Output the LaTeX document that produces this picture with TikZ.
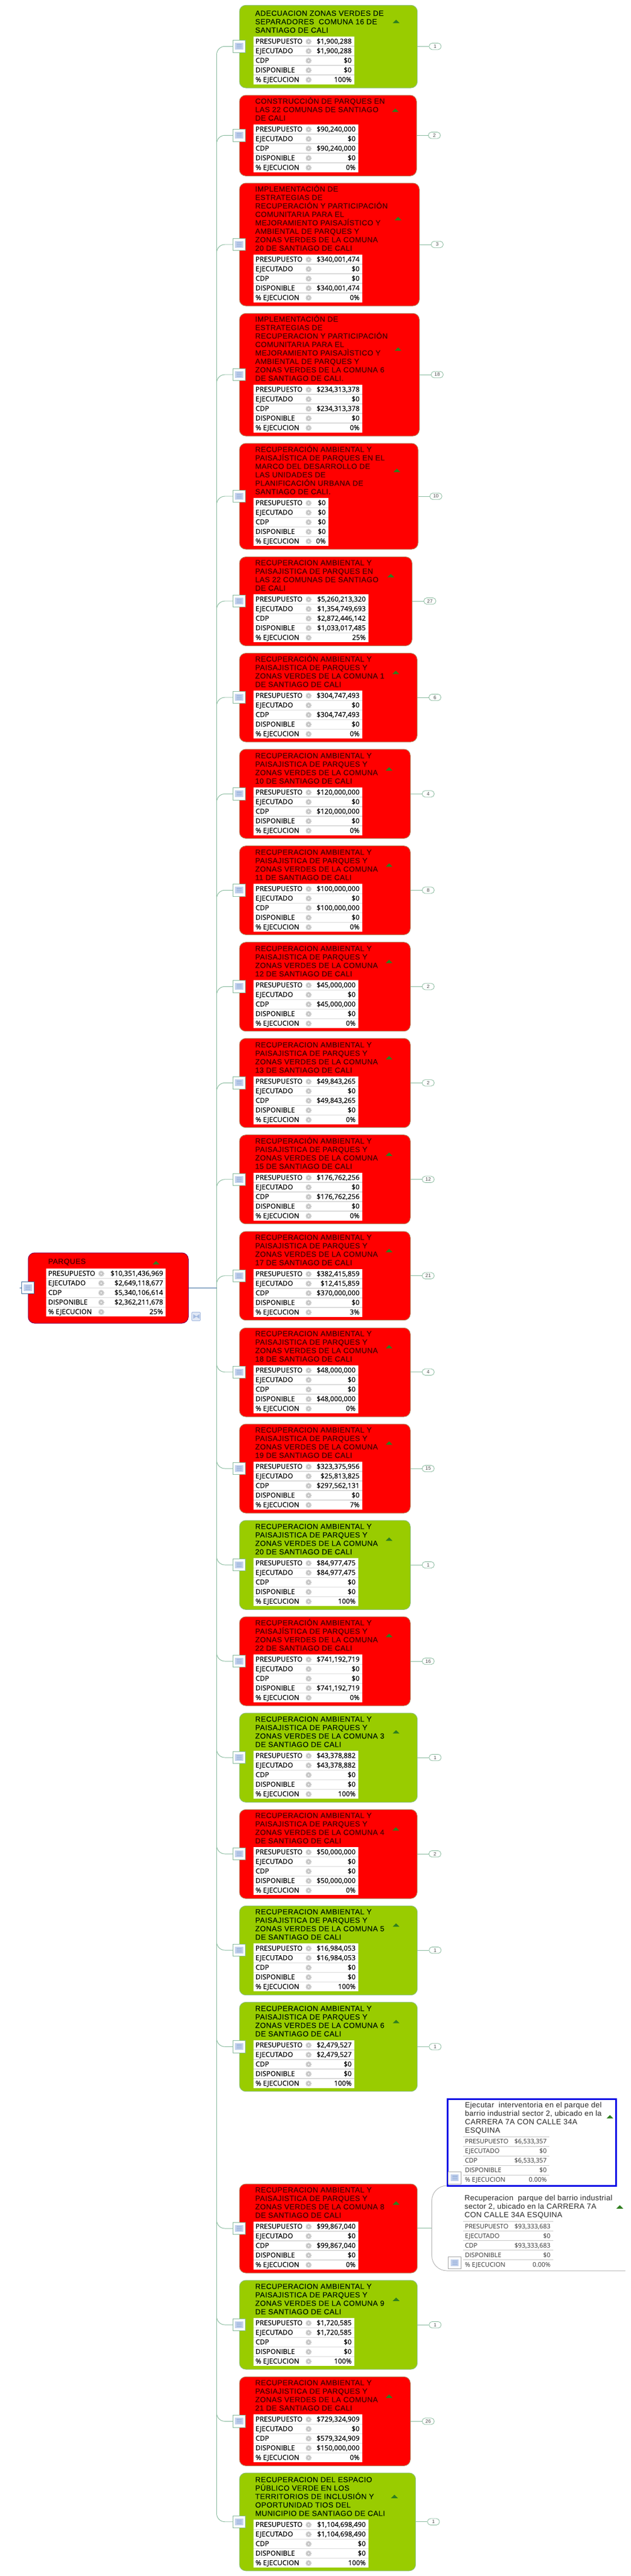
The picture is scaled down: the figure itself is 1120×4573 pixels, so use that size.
\documentclass[tikz,border=0pt]{standalone}
\usepackage{fontspec}
\usetikzlibrary{fit}
\newfontfamily\titlefont{Liberation Sans}[LetterSpace=3, FakeBold=0.45]
\newfontfamily\subfont{Liberation Sans}[LetterSpace=3]
\newfontfamily\numfont{Liberation Sans}
\newfontfamily\rowfont{Open Sans}[FakeBold=0.4]
\newfontfamily\subrowfont{Open Sans}
\definecolor{cardred}{HTML}{FF0000}
\definecolor{cardgreen}{HTML}{99CC00}
\definecolor{linkgreen}{HTML}{86B99C}
\definecolor{linkblue}{HTML}{3F6F9F}
\definecolor{edgered}{HTML}{B5835F}
\definecolor{edgegreen}{HTML}{8CC07A}
\definecolor{rulegrey}{HTML}{DADADA}
\definecolor{geargrey}{HTML}{C4C4C4}
\definecolor{iconblue}{HTML}{C3D1EC}
\definecolor{icondeep}{HTML}{A5BBE0}
\definecolor{tripoint}{HTML}{2F7F1F}
\tikzset{
    cardbox/.style={draw, rounded corners=8.5pt, inner sep=0pt, line width=0.75pt},
    cardred/.style={cardbox, fill=cardred, draw=edgered},
    cardgreen/.style={cardbox, fill=cardgreen, draw=edgegreen},
    titlered/.style={text=red!28!black},
    titlegreen/.style={text=black!90!green},
    titletext/.style={anchor=south west, inner sep=0pt, align=left, font=\fontsize{10}{11.25}\selectfont\titlefont},
    subtitle/.style={anchor=south west, inner sep=0pt, align=left, text=black!85, font=\fontsize{10}{11.25}\selectfont\subfont},
    rowlabel/.style={anchor=base west, inner sep=0pt, font=\fontsize{9.2}{10}\selectfont\rowfont},
    rowvalue/.style={anchor=base east, inner sep=0pt, font=\fontsize{9.2}{10}\selectfont\rowfont},
    sublabel/.style={anchor=base west, inner sep=0pt, text=black!80, font=\fontsize{8.5}{10}\selectfont\subrowfont},
    subvalue/.style={anchor=base east, inner sep=0pt, text=black!80, font=\fontsize{8.5}{10}\selectfont\subrowfont},
    iconbox/.style={rectangle, draw=linkgreen, fill=white, minimum width=16.7pt, minimum height=16.2pt, inner sep=0pt, line width=0.6pt},
    pillbox/.style={rectangle, draw=linkgreen, fill=white, rounded corners=4pt, minimum width=16pt, minimum height=8.5pt, inner sep=0pt, text=black!70, line width=0.6pt, font=\fontsize{6.5}{7}\selectfont\numfont},
    linkline/.style={draw=linkgreen, line width=0.7pt},
    rootline/.style={draw=linkblue, line width=0.7pt},
    subline/.style={draw=black!30, line width=0.7pt}
}
% list icon of a topic
\newcommand{\listicon}[1]{
    \fill[iconblue] ([shift={(-7.2,-6)}]#1.center) rectangle ([shift={(7.2,6)}]#1.center);
    \fill[icondeep] ([shift={(-4.5,-4)}]#1.center) rectangle ([shift={(4.5,4)}]#1.center);
    \foreach \u in {-1.5,1.5}
        \draw[iconblue, line width=0.4pt] ([shift={(-4.5,\u)}]#1.center) -- ([shift={(4.5,\u)}]#1.center);
}
% gear of a table row
\newcommand{\gearicon}[2]{
    \draw[geargrey, line width=1.1pt, dash pattern=on 1pt off 0.9pt] (#1,#2) circle (4.7);
    \fill[geargrey] (#1,#2) circle (4.2);
    \fill[black!8] (#1,#2) circle (1.8);
}
% small triangle of a topic
\newcommand{\uptri}[2]{
    \fill[tripoint] ({#1-6},{#2+3}) -- ({#1},{#2-3}) -- ({#1+6},{#2+3}) -- cycle;
}
% id, left, top, right, five values
\newcommand{\costtable}[9]{
    \fill[white] (#2,#3) rectangle (#4,{#3+85});
    \foreach \r in {1,2,3,4}
        \draw[rulegrey, line width=0.9pt] (#2,{#3+17*\r}) -- (#4,{#3+17*\r});
    \foreach \lab/\val [count=\r from 0] in {PRESUPUESTO/{\$#5}, EJECUTADO/{\$#6}, CDP/{\$#7}, DISPONIBLE/{\$#8}, {\% EJECUCION}/{#9\%}} {
        \node[rowlabel] (#1-l\r) at ({#2+3.3},{#3+12.5+17*\r}) {\lab};
        \gearicon{#2+97.7}{#3+8.7+17*\r}
        \node[rowvalue] (#1-v\r) at ({#4-4.3},{#3+12.5+17*\r}) {\val};
    }
}
% id, top rule, right, five values
\newcommand{\subtable}[8]{
    \foreach \r in {0,1,2,3,4}
        \draw[black!22, line width=0.7pt] (821.7,{#2+17*\r}) -- (#3,{#2+17*\r});
    \foreach \lab/\val [count=\r from 0] in {PRESUPUESTO/{#4}, EJECUTADO/{#5}, CDP/{#6}, DISPONIBLE/{#7}, {\% EJECUCION}/{#8}} {
        \node[sublabel] (#1-l\r) at (825,{#2+12.5+17*\r}) {\lab};
        \node[subvalue] (#1-v\r) at ({#3-4.3},{#2+12.5+17*\r}) {\val};
    }
}

\begin{document}
\begin{tikzpicture}[x=0.75pt, y=-0.75pt]
\useasboundingbox (0,0) rectangle (1120,4573);

\coordinate (hub) at (384.5,2286.5);

% topics of the list
\foreach \cid/\ctop/\cbot/\cright/\ttop/\tright/\cmid/\ytri/\pill/\kind/\ctitle/\va/\vb/\vc/\vd/\ve in {
    c1/9.3/156/740.7/65/628.7/82.3/38/1/green/{ADECUACION ZONAS VERDES DE\\SEPARADORES\ \ COMUNA 16 DE\\SANTIAGO DE CALI}/{1,900,288}/{1,900,288}/0/0/100,
    c2/169/312.3/739.3/221/635.7/240.3/195.7/2/red/{CONSTRUCCIÓN DE PARQUES EN\\LAS 22 COMUNAS DE SANTIAGO\\DE CALI}/{90,240,000}/0/{90,240,000}/0/0,
    c3/325/543/744.3/452/642.7/434/388/3/red/{IMPLEMENTACIÓN DE\\ESTRATEGIAS DE\\RECUPERACIÓN Y PARTICIPACIÓN\\COMUNITARIA PARA EL\\MEJORAMIENTO PAISAJÍSTICO Y\\AMBIENTAL DE PARQUES Y\\ZONAS VERDES DE LA COMUNA\\20 DE SANTIAGO DE CALI}/{340,001,474}/0/0/{340,001,474}/0,
    c4/556.3/774/744.3/683/642.7/665/619.7/18/red/{IMPLEMENTACIÓN DE\\ESTRATEGIAS DE\\RECUPERACION Y PARTICIPACIÓN\\COMUNITARIA PARA EL\\MEJORAMIENTO PAISAJÌSTICO Y\\AMBIENTAL DE PARQUES Y\\ZONAS VERDES DE LA COMUNA 6\\DE SANTIAGO DE CALI.}/{234,313,378}/0/{234,313,378}/0/0,
    c5/787/975/742/884.3/582.7/881/835/10/red/{RECUPERACIÓN AMBIENTAL Y\\PAISAJÍSTICA DE PARQUES EN EL\\MARCO DEL DESARROLLO DE\\LAS UNIDADES DE\\PLANIFICACIÓN URBANA DE\\SANTIAGO DE CALI.}/0/0/0/0/0,
    c6/988.6/1146.4/731.3/1055.4/653.7/1067/1021.8/27/red/{RECUPERACION AMBIENTAL Y\\PAISAJISTICA DE PARQUES EN\\LAS 22 COMUNAS DE SANTIAGO\\DE CALI}/{5,260,213,320}/{1,354,749,693}/{2,872,446,142}/{1,033,017,485}/25,
    c7/1159.6/1317/740.3/1226.4/642.7/1238/1193.6/6/red/{RECUPERACIÓN AMBIENTAL Y\\PAISAJISTICA DE PARQUES Y\\ZONAS VERDES DE LA COMUNA 1\\DE SANTIAGO DE CALI}/{304,747,493}/0/{304,747,493}/0/0,
    c8/1330/1488.3/728.3/1398/642.7/1409.3/1365/4/red/{RECUPERACION AMBIENTAL Y\\PAISAJISTICA DE PARQUES Y\\ZONAS VERDES DE LA COMUNA\\10 DE SANTIAGO DE CALI}/{120,000,000}/0/{120,000,000}/0/0,
    c9/1501.7/1659.3/728.3/1569.3/642.7/1580.3/1535.7/8/red/{RECUPERACION AMBIENTAL Y\\PAISAJISTICA DE PARQUES Y\\ZONAS VERDES DE LA COMUNA\\11 DE SANTIAGO DE CALI}/{100,000,000}/0/{100,000,000}/0/0,
    c10/1672.7/1830.7/728.3/1740.3/635.7/1751.3/1706.7/2/red/{RECUPERACION AMBIENTAL Y\\PAISAJISTICA DE PARQUES Y\\ZONAS VERDES DE LA COMUNA\\12 DE SANTIAGO DE CALI}/{45,000,000}/0/{45,000,000}/0/0,
    c11/1843.3/2001.7/728.3/1911.3/635.7/1922.3/1877.7/2/red/{RECUPERACION AMBIENTAL Y\\PAISAJISTICA DE PARQUES Y\\ZONAS VERDES DE LA COMUNA\\13 DE SANTIAGO DE CALI}/{49,843,265}/0/{49,843,265}/0/0,
    c12/2014.7/2172.7/728.3/2082/642.7/2093.7/2049/12/red/{RECUPERACIÓN AMBIENTAL Y\\PAISAJISTICA DE PARQUES Y\\ZONAS VERDES DE LA COMUNA\\15 DE SANTIAGO DE CALI}/{176,762,256}/0/{176,762,256}/0/0,
    c13/2186/2343.7/728.3/2253/642.7/2264.7/2220/21/red/{RECUPERACION AMBIENTAL Y\\PAISAJISTICA DE PARQUES Y\\ZONAS VERDES DE LA COMUNA\\17 DE SANTIAGO DE CALI}/{382,415,859}/{12,415,859}/{370,000,000}/0/3,
    c14/2357.3/2515/728.3/2424/635.7/2435.7/2390.7/4/red/{RECUPERACION AMBIENTAL Y\\PAISAJISTICA DE PARQUES Y\\ZONAS VERDES DE LA COMUNA\\18 DE SANTIAGO DE CALI}/{48,000,000}/0/0/{48,000,000}/0,
    c15/2528/2686/728.3/2595/642.7/2607/2561.7/15/red/{RECUPERACION AMBIENTAL Y\\PAISAJISTICA DE PARQUES Y\\ZONAS VERDES DE LA COMUNA\\19 DE SANTIAGO DE CALI}/{323,375,956}/{25,813,825}/{297,562,131}/0/7,
    c16/2699/2857.3/728.3/2766.3/635.7/2778/2732.3/1/green/{RECUPERACION AMBIENTAL Y\\PAISAJISTICA DE PARQUES Y\\ZONAS VERDES DE LA COMUNA\\20 DE SANTIAGO DE CALI}/{84,977,475}/{84,977,475}/0/0/100,
    c17/2870/3028/728.3/2937.3/642.7/2949/2903.3/16/red/{RECUPERACIÓN AMBIENTAL Y\\PAISAJÍSTICA DE PARQUES Y\\ZONAS VERDES DE LA COMUNA\\22 DE SANTIAGO DE CALI}/{741,192,719}/0/0/{741,192,719}/0,
    c18/3041/3199.3/740.7/3108.3/635.7/3120/3074.3/1/green/{RECUPERACION AMBIENTAL Y\\PAISAJISTICA DE PARQUES Y\\ZONAS VERDES DE LA COMUNA 3\\DE SANTIAGO DE CALI}/{43,378,882}/{43,378,882}/0/0/100,
    c19/3212.3/3370.3/740.3/3279.3/635.7/3291/3246.7/2/red/{RECUPERACION AMBIENTAL Y\\PAISAJISTICA DE PARQUES Y\\ZONAS VERDES DE LA COMUNA 4\\DE SANTIAGO DE CALI}/{50,000,000}/0/0/{50,000,000}/0,
    c20/3383.3/3541.7/740.7/3450.3/635.7/3462/3417.3/1/green/{RECUPERACION AMBIENTAL Y\\PAISAJISTICA DE PARQUES Y\\ZONAS VERDES DE LA COMUNA 5\\DE SANTIAGO DE CALI}/{16,984,053}/{16,984,053}/0/0/100,
    c21/3554.3/3712.7/740.7/3622/628.7/3633.3/3588.7/1/green/{RECUPERACION AMBIENTAL Y\\PAISAJISTICA DE PARQUES Y\\ZONAS VERDES DE LA COMUNA 6\\DE SANTIAGO DE CALI}/{2,479,527}/{2,479,527}/0/0/100,
    c22/3877/4035/740.7/3944/635.7/3956/3910.7/0/red/{RECUPERACION AMBIENTAL Y\\PAISAJISTICA DE PARQUES Y\\ZONAS VERDES DE LA COMUNA 8\\DE SANTIAGO DE CALI}/{99,867,040}/0/{99,867,040}/0/0,
    c23/4048/4206/740.7/4115.3/628.7/4127/4081.7/1/green/{RECUPERACION AMBIENTAL Y\\PAISAJISTICA DE PARQUES Y\\ZONAS VERDES DE LA COMUNA 9\\DE SANTIAGO DE CALI}/{1,720,585}/{1,720,585}/0/0/100,
    c24/4219.3/4377.3/728.3/4286.3/642.7/4298.3/4253.7/26/red/{RECUPERACION AMBIENTAL Y\\PASIAJISTICA DE PARQUES Y\\ZONAS VERDES DE LA COMUNA\\21 DE SANTIAGO DE CALI}/{729,324,909}/0/{579,324,909}/{150,000,000}/0,
    c25/4390/4563.7/737.7/4473.3/653.7/4476.7/4431.7/1/green/{RECUPERACION DEL ESPACIO\\PÚBLICO VERDE EN LOS\\TERRITORIOS DE INCLUSIÓN Y\\OPORTUNIDAD TIOS DEL\\MUNICIPIO DE SANTIAGO DE CALI}/{1,104,698,490}/{1,104,698,490}/0/0/100%
} {
    \node[card\kind, fit={(425,\ctop)(\cright,\cbot)}] (\cid) {};
    \node[titletext, title\kind] (\cid-t) at (452.7,{\ttop-6.5}) {\ctitle};
    \costtable{\cid}{450}{\ttop}{\tright}{\va}{\vb}{\vc}{\vd}{\ve}
    \uptri{\cright-37.7}{\ytri}
    \node[iconbox] (\cid-i) at (424.5,\cmid) {};
    \listicon{\cid-i}
    \draw[linkline, rounded corners=11pt] (hub) |- (\cid-i.west);
    \ifnum\pill>0
        \node[pillbox] (\cid-p) at ({\cright+31.7},\cmid) {\pill};
        \draw[linkline] (\cid-p.west -| \cid.east) -- (\cid-p.west);
    \fi
}

% root topic
\node[cardred, draw=black!30!blue!50!red, fit={(50,2224)(334.3,2349)}] (root) {};
\node[titletext, titlered, anchor=west] (root-t) at (85.3,2240.3) {PARQUES};
\costtable{root}{82}{2252.3}{294}{10,351,436,969}{2,649,118,677}{5,340,106,614}{2,362,211,678}{25}
\uptri{277}{2241.7}
\node[iconbox, draw=linkblue] (root-i) at (49.5,2286) {};
\listicon{root-i}
\draw[rootline] (root) -- (hub);
\draw[rootline] (root-i.west) -- ++(-2.5,0);

% film icon under the root
\node[rectangle, draw=icondeep, fill=iconblue!50, rounded corners=1pt, minimum width=11.5pt, minimum height=11.5pt, inner sep=0pt, line width=0.7pt] (root-f) at (348,2337) {};
\fill[icondeep] (343,2333) -- (349,2337) -- (343,2341) -- cycle;
\fill[icondeep] (354,2333) -- (348,2337) -- (354,2341) -- cycle;

% sub topics of comuna 8
\node[fit={(766.7,3880)(1110,4031)}, inner sep=0pt] (sub2) {};
\draw[subline, rounded corners=20pt] (794,3880) -| (sub2.west) |- (1110,4031);
\draw[linkline] (sub2.west -| c22.east) -- (sub2.west);
\node[subtitle] (sub2-t) at (824.3,3939) {Recuperacion\ \ parque del barrio industrial\\sector 2, ubicado en la CARRERA 7A\\CON CALLE 34A ESQUINA};
\subtable{sub2}{3943.7}{981.7}{\$93,333,683}{\$0}{\$93,333,683}{\$0}{0.00\%}
\uptri{1100}{3917.7}
\node[iconbox, draw=black!35] (sub2-i) at (807,4016.7) {};
\listicon{sub2-i}

\node[draw=blue!90!black, fill=white, line width=2.2pt, inner sep=0pt, fit={(794.3,3726)(1093.3,3880.7)}] (sub1) {};
\node[subtitle] (sub1-t) at (825,3789) {Ejecutar\ \ interventoria en el parque del\\barrio industrial sector 2, ubicado en la\\CARRERA 7A CON CALLE 34A\\ESQUINA};
\subtable{sub1}{3793.3}{975}{\$6,533,357}{\$0}{\$6,533,357}{\$0}{0.00\%}
\uptri{1082.7}{3757.7}
\node[iconbox, draw=black!35] (sub1-i) at (807,3866.3) {};
\listicon{sub1-i}

\end{tikzpicture}
\end{document}
